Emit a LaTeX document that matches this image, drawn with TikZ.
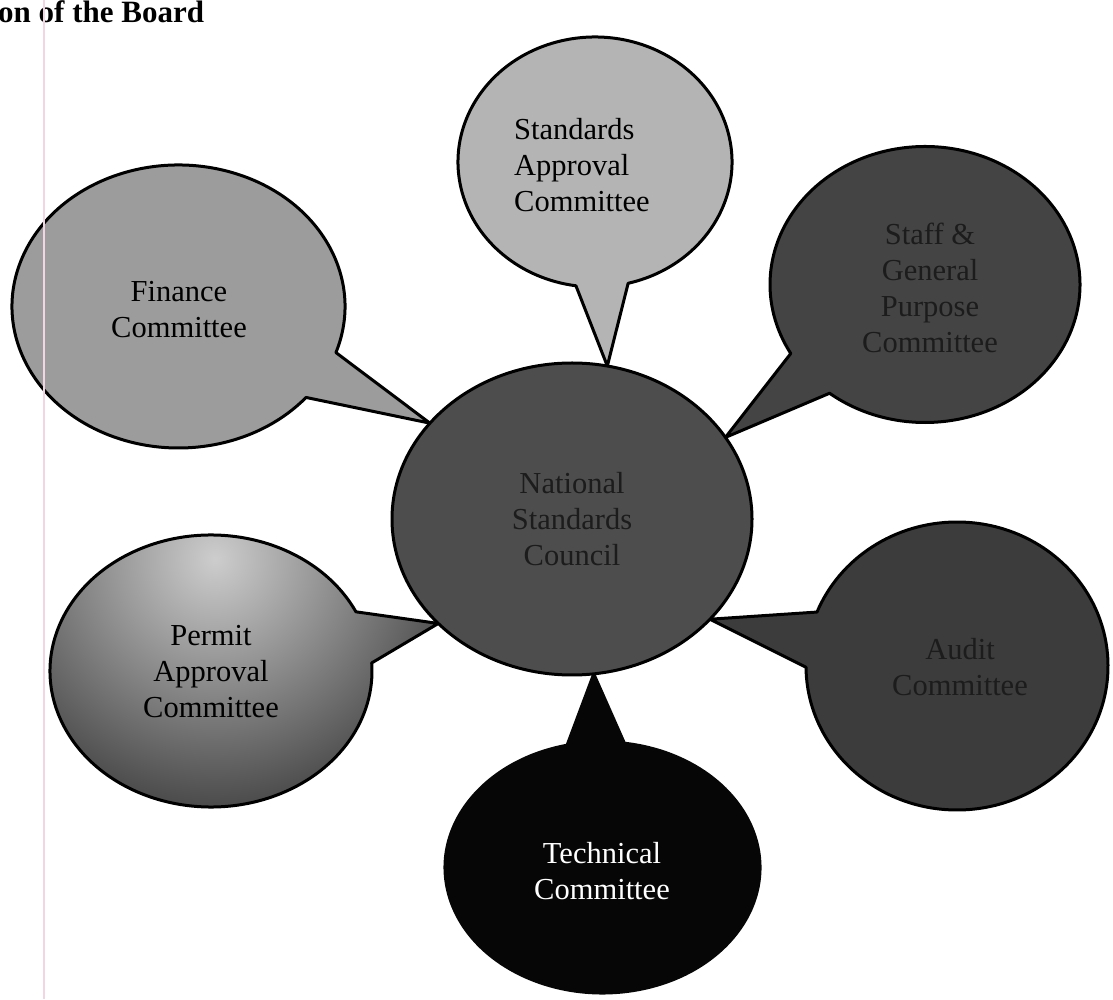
\documentclass[tikz,border=0pt]{standalone}
\usepackage{fontspec}
\setmainfont{Liberation Serif}
\usetikzlibrary{shapes.geometric,backgrounds}
\definecolor{stdgray}{HTML}{B4B4B4}
\definecolor{fingray}{HTML}{9C9C9C}
\definecolor{staffgray}{HTML}{444444}
\definecolor{nscgray}{HTML}{4D4D4D}
\definecolor{auditgray}{HTML}{3C3C3C}
\definecolor{techblack}{HTML}{060606}
\definecolor{permitlight}{HTML}{CDCDCD}
\definecolor{permitdark}{HTML}{101010}
\definecolor{darktext}{HTML}{1C1C1C}
\definecolor{marginpink}{HTML}{F2D4E2}
\tikzset{
  bubble/.style={draw=black, line width=3pt, line join=round},
  txt/.style={font=\fontsize{30.5pt}{36pt}\selectfont, align=center, inner sep=0pt},
  pinkline/.style={draw=marginpink, line width=1.2pt}
}
\begin{document}
\begin{tikzpicture}[x=1pt, y=1pt]
\useasboundingbox (0,0) rectangle (1113,999);

% central council
\node[ellipse, bubble, fill=nscgray, minimum width=360pt, minimum height=312pt,
      inner sep=0pt, outer sep=0pt, text=darktext,
      font=\fontsize{30.5pt}{36pt}\selectfont, align=center] (nsc) at (572,480)
      {National\\Standards\\Council};

\coordinate (tS) at (nsc.77);
\coordinate (tF) at (nsc.146);
\coordinate (tG) at (nsc.28);
\coordinate (tP) at (nsc.218);
\coordinate (tA) at (nsc.324);
\coordinate (tT) at (nsc.278.5);

\begin{scope}[on background layer]
% Standards Approval Committee
\path[bubble, fill=stdgray] ([shift={(284:137 and 125)}]595,837)
  arc[start angle=284, end angle=622, x radius=137, y radius=125] -- (tS) -- cycle;
\node[txt, align=left, anchor=west] (std) at (514,834) {Standards\\Approval\\Committee};

% Finance Committee
\path[bubble, fill=fingray] ([shift={(341:166.5 and 141.5)}]178.5,692.5)
  arc[start angle=341, end angle=680, x radius=166.5, y radius=141.5] -- (tF) -- cycle;
\node[txt] (fin) at (179,689) {Finance\\Committee};

% Staff & General Purpose Committee
\path[bubble, fill=staffgray] ([shift={(232:155 and 138)}]925,714.5)
  arc[start angle=232, end angle=570, x radius=155, y radius=138] -- (tG) -- cycle;
\node[txt, text=darktext] (stf) at (930,711) {Staff \&\\General\\Purpose\\Committee};

% Permit Approval Committee (shaded)
\begin{scope}
\clip ([shift={(25.8:161 and 136)}]211,328)
  arc[start angle=25.8, end angle=363.4, x radius=161, y radius=136] -- (tP) -- cycle;
\shade[inner color=permitlight, outer color=permitdark] (215,440) circle (360);
\end{scope}
\path[bubble] ([shift={(25.8:161 and 136)}]211,328)
  arc[start angle=25.8, end angle=363.4, x radius=161, y radius=136] -- (tP) -- cycle;
\node[txt] (per) at (211,327) {Permit\\Approval\\Committee};

% Audit Committee
\path[bubble, fill=auditgray] ([shift={(180.5:151 and 144)}]957,333)
  arc[start angle=180.5, end angle=518, x radius=151, y radius=144] -- (tA) -- cycle;
\node[txt, text=darktext] (aud) at (960,332) {Audit\\Committee};

% Technical Committee
\path[bubble, draw=techblack, fill=techblack] ([shift={(103:157.5 and 125.5)}]602.5,131.5)
  arc[start angle=103, end angle=442, x radius=157.5, y radius=125.5] -- (tT) -- cycle;
\node[txt, text=white] (tec) at (602,128) {Technical\\Committee};
\end{scope}

% partial heading
\node[font=\fontsize{31pt}{36pt}\selectfont\bfseries, anchor=base west, inner sep=0pt]
  (title) at (-2,976) {on of the Board};

% margin line
\coordinate (mtop) at (44,999);
\coordinate (mbot) at (44,0);
\draw[pinkline] (mtop) -- (mbot);
\end{tikzpicture}
\end{document}
